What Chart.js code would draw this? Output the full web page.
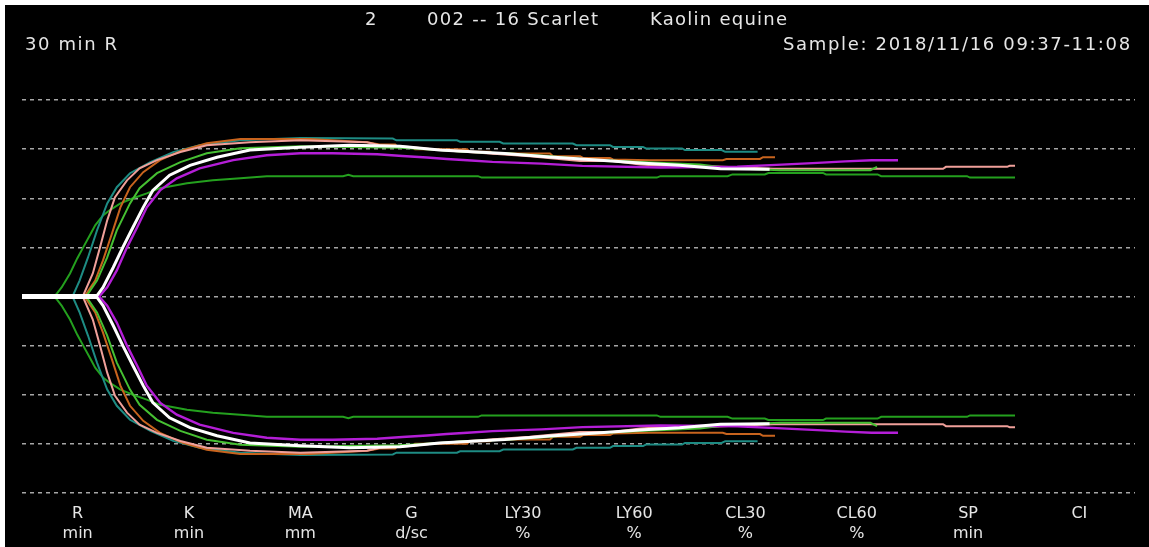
<!DOCTYPE html>
<html>
<head>
<meta charset="utf-8">
<title>TEG tracing</title>
<script src="https://cdn.jsdelivr.net/npm/chart.js@4.4.0/dist/chart.umd.min.js"></script>
<style>
  html, body { margin: 0; padding: 0; background: #fff; overflow: hidden; }
  #wrap { position: absolute; left: 5px; top: 5px; width: 1144px; height: 542px; background: #000; }
</style>
</head>
<body>
<div id="wrap"><canvas id="teg"></canvas></div>
<script>
// header texts
const sampleNo = '2';
const sampleName = '002 -- 16 Scarlet';
const reagent = 'Kaolin equine';
const modeLabel = '30 min R';
const sampleTime = 'Sample: 2018/11/16 09:37-11:08';

// parameter columns under the tracing
const paramNames = ['R', 'K', 'MA', 'G', 'LY30', 'LY60', 'CL30', 'CL60', 'SP', 'CI'];
const paramUnits = ['min', 'min', 'mm', 'd/sc', '%', '%', '%', '%', 'min', ''];

// traces: [time (min), amplitude (mm)]
const traceWhite = [[0, 0.4], [6.25, 0.4], [6.75, 3.7], [7.6, 11.8], [8.4, 20.0], [9.25, 28.2], [10.1, 36.3], [10.9, 43.2], [12.3, 49.4], [14, 53.4], [16.25, 56.7], [19, 59.6], [23.2, 60.8], [27.3, 61.6], [31.5, 61.2], [34.8, 59.6], [40.25, 58.2], [44, 56.8], [48.2, 55.5], [51.5, 54.4], [54.8, 53.4], [58.2, 52.0], [62.3, 51.8]];
const traceMagenta = [[0, 0.4], [6.5, 0.4], [7.1, 3.7], [7.9, 10.6], [8.75, 20.0], [9.6, 28.2], [10.4, 36.3], [11.5, 43.2], [12.9, 48.1], [14.8, 52.2], [17.6, 55.5], [20.4, 57.5], [23.2, 58.3], [25.9, 58.3], [29.6, 57.9], [31.7, 57.2], [33.75, 56.6], [35.4, 56.0], [37.1, 55.5], [39.2, 54.8], [43.3, 54.1], [46.7, 53.2], [53.2, 52.5], [59.6, 52.8], [63.3, 53.7], [66.3, 54.4], [68.6, 55.0], [70.8, 55.5], [73, 55.5]];
const traceGreen = [[0, 0.4], [5.4, 0.4], [6.25, 6.5], [7.1, 15.9], [7.9, 26.9], [9.0, 37.9], [9.8, 44.1], [11.25, 50.2], [13.2, 54.7], [15.4, 58.3], [18.2, 60.4], [23.2, 61.2], [31.5, 60.6], [34.8, 59.6], [36.9, 58.9], [40.7, 58.2], [44, 57.1], [45.7, 56.4], [47.3, 55.8], [51.5, 54.8], [56.5, 53.7], [59, 52.2], [63.2, 51.4], [70.7, 51.4], [71.25, 52.8]];
const tracePink = [[0, 0.4], [5.1, 0.4], [5.9, 9.4], [6.5, 20.0], [7.1, 31.0], [7.75, 40.4], [8.75, 47.3], [9.8, 52.2], [11.25, 55.5], [13.2, 58.8], [15.4, 61.6], [19, 62.8], [23.2, 63.6], [28.75, 62.8], [29.8, 61.6], [32.3, 60.9], [34.8, 59.6], [36.9, 58.9], [39, 58.2], [42.3, 57.1], [46.5, 55.2], [49.25, 55.2], [51.5, 53.7], [54, 53.0], [57.3, 53.0], [62.6, 52.0], [76.75, 52.0], [77, 52.8], [82.1, 52.8], [82.3, 53.2], [82.75, 53.2]];
const traceOrange = [[0, 0.4], [5.25, 0.4], [6.1, 6.5], [6.75, 14.7], [7.5, 25.7], [8.2, 36.3], [9.0, 44.5], [10.1, 50.6], [11.5, 55.5], [13.4, 59.6], [15.4, 62.4], [18.2, 64.1], [24, 64.1], [28.75, 62.8], [29.8, 61.9], [31.1, 61.9], [31.3, 60.9], [32.5, 60.9], [32.75, 59.9], [37.1, 59.9], [37.3, 58.9], [39, 58.9], [39.25, 58.2], [44, 58.2], [44.25, 57.1], [46.5, 57.1], [46.75, 56.4], [49, 56.4], [49.25, 55.8], [52.3, 55.5], [58.4, 55.5], [58.7, 56.0], [61.5, 56.0], [61.75, 56.7], [62.75, 56.7]];
const traceTeal = [[0, 0.4], [4.25, 0.4], [4.8, 6.5], [5.5, 15.9], [6.25, 26.9], [7.1, 37.9], [7.9, 44.5], [9.0, 50.2], [10.7, 54.7], [12.6, 58.8], [14.8, 61.6], [18.2, 63.6], [23.2, 64.5], [30.9, 64.3], [31.2, 63.6], [36.25, 63.6], [36.5, 63.0], [39.8, 63.0], [40.1, 62.3], [45.9, 62.3], [46.2, 61.6], [49, 61.6], [49.25, 60.9], [51.75, 60.9], [52, 60.3], [55, 60.3], [55.25, 59.6], [58.3, 59.6], [58.6, 58.9], [61.3, 58.9]];
const traceDarkGreen = [[0, 0.4], [2.75, 0.4], [2.9, 1.2], [3.3, 3.7], [4.0, 9.4], [4.6, 15.5], [5.1, 20.0], [5.7, 25.3], [6.1, 29.0], [6.75, 33.0], [7.3, 35.1], [8.2, 37.9], [9.25, 40.0], [10.4, 42.0], [11.5, 44.1], [13.75, 46.1], [15.9, 47.3], [18.2, 48.1], [20.4, 49.0], [26.75, 49.0], [27.2, 49.6], [27.6, 49.0], [38, 49.0], [38.3, 48.4], [52.9, 48.4], [53.2, 49.0], [58.8, 49.0], [59.2, 49.7], [61.9, 49.7], [62.2, 50.3], [66.75, 50.3], [67, 49.7], [71.3, 49.7], [71.6, 49.0], [78.75, 49.0], [79, 48.4], [82.75, 48.4]];

const traces = [
  { points: traceWhite, color: '#ffffff', width: 3 },
  { points: traceMagenta, color: '#b41ed7', width: 2.4 },
  { points: traceGreen, color: '#46c032', width: 2 },
  { points: tracePink, color: '#f0a09a', width: 2 },
  { points: traceOrange, color: '#c8641e', width: 2 },
  { points: traceTeal, color: '#1e8c84', width: 2 },
  { points: traceDarkGreen, color: '#24a01e', width: 2 }
];

// each trace is symmetric about zero: upper and lower branch
const datasets = [];
traces.forEach(tr => {
  [1, -1].forEach(sign => {
    datasets.push({
      data: tr.points.map(([t, a]) => ({ x: t, y: sign * a / 2 })),
      borderColor: tr.color,
      borderWidth: tr.width,
      pointRadius: 0,
      tension: 0,
      fill: false,
      xAxisID: 'x',
      yAxisID: 'y'
    });
  });
});

// draw a string stretched between left and right
function drawSpread(ctx, text, left, right, base) {
  ctx.letterSpacing = '0px';
  const natural = ctx.measureText(text).width;
  const gaps = text.length - 1;
  const extra = gaps > 0 ? (right - left - natural) / gaps : 0;
  ctx.letterSpacing = extra.toFixed(2) + 'px';
  ctx.fillText(text, left, base);
  ctx.letterSpacing = '0px';
}

const headerPlugin = {
  id: 'headerText',
  afterDraw(chart) {
    const ctx = chart.ctx;
    ctx.save();
    ctx.font = '18px "DejaVu Sans"';
    ctx.fillStyle = '#e6e6e6';
    ctx.textAlign = 'left';
    ctx.textBaseline = 'alphabetic';
    drawSpread(ctx, sampleNo, 360, 373, 20);
    drawSpread(ctx, sampleName, 422, 593, 20);
    drawSpread(ctx, reagent, 645, 782, 20);
    drawSpread(ctx, modeLabel, 20, 112, 45);
    drawSpread(ctx, sampleTime, 778, 1125, 45);
    ctx.restore();
  }
};

const ctx = document.getElementById('teg');

const myChart = new Chart(ctx, {
  type: 'line',
  data: { datasets: datasets },
  plugins: [headerPlugin],
  options: {
    responsive: true,
    maintainAspectRatio: false,
    animation: false,
    events: [],
    layout: {
      padding: { left: 17, right: 14, top: 95, bottom: 0 }
    },
    plugins: {
      legend: { display: false },
      tooltip: { enabled: false }
    },
    scales: {
      x: {
        type: 'linear',
        min: 0,
        max: 92.75,
        display: false
      },
      params: {
        type: 'category',
        position: 'bottom',
        labels: paramNames.map((n, i) => [n, paramUnits[i]]),
        offset: true,
        grid: { display: false, drawTicks: false },
        border: { display: false },
        ticks: {
          color: '#e6e6e6',
          autoSkip: false,
          maxRotation: 0,
          padding: 10,
          font: { family: 'DejaVu Sans', size: 16, lineHeight: 1.3 }
        },
        afterFit: (scale) => { scale.height = 54; }
      },
      y: {
        min: -40,
        max: 40,
        ticks: { display: false, stepSize: 10 },
        grid: { color: '#a6a6a6', lineWidth: 1.5, drawTicks: false },
        border: { display: false, dash: [4, 4] }
      }
    }
  }
});
</script>
</body>
</html>
